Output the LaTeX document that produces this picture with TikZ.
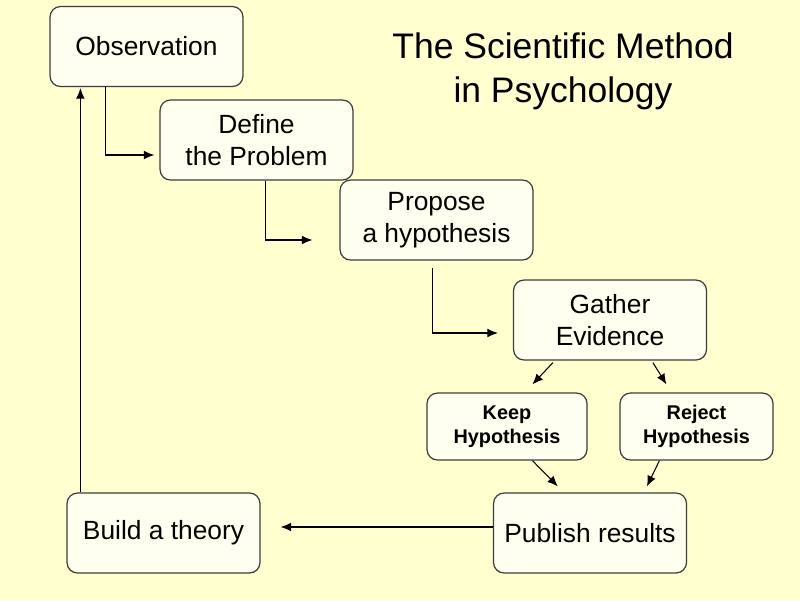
\documentclass[tikz,border=0pt]{standalone}
\usepackage{fontspec}
\setmainfont{Liberation Sans}
\usetikzlibrary{arrows.meta,calc}

\definecolor{slidebg}{RGB}{255,255,208}
\definecolor{boxfill}{RGB}{255,255,240}
\definecolor{boxline}{RGB}{60,60,60}

\tikzset{
  stepbox/.style={draw=boxline, fill=boxfill, line width=0.7pt, rounded corners=6pt,
    align=center, inner sep=0pt, minimum width=3.86cm, minimum height=1.6cm,
    font=\fontsize{15}{18}\selectfont},
  choicebox/.style={stepbox, minimum height=1.34cm,
    font=\bfseries\fontsize{11.3}{13.6}\selectfont},
  link/.style={-{Latex[length=6pt,width=5pt]}, line width=0.6pt, black}
}

\begin{document}
\begin{tikzpicture}[x=0.02cm, y=-0.02cm]
            % Background
            \fill[slidebg] (0,0) rectangle (800,600);
            \useasboundingbox (0,0) rectangle (800,600);

            % Title
            \node[align=center, font=\fontsize{20.2}{25}\selectfont] (title) at (563,71)
              {The Scientific Method\\in Psychology};

            % Draw steps
            \node[stepbox] (obs) at (146.5,46.5) {Observation};
            \node[stepbox] (def) at (256.5,140) {Define\\the Problem};
            \node[stepbox] (prop) at (436.5,220) {Propose\\a hypothesis};
            \node[stepbox] (gath) at (610,320) {Gather\\Evidence};
            \node[choicebox, minimum width=3.2cm] (keep) at (507,426.5) {Keep\\Hypothesis};
            \node[choicebox, minimum width=3.06cm] (rej) at (696.5,426.5) {Reject\\Hypothesis};
            \node[stepbox] (pub) at (590,533) {Publish results};
            \node[stepbox] (build) at (163.5,533) {Build a theory};

            % Draw elbow arrows
            \draw[link] ($(obs.south west)+(56,0)$) |- ($(def.west)+(-5,15)$);
            \draw[link] ($(def.south west)+(106,0)$) |- ($(prop.west)+(-27,20)$);
            \draw[link] ($(prop.south west)+(93,7)$) |- ($(gath.west)+(-15,13)$);

            % Draw branch arrows
            \draw[link] ($(gath.south west)+(40,2)$) -- ($(keep.north west)+(106,-8)$);
            \draw[link] ($(gath.south west)+(140,2)$) -- ($(rej.north west)+(47,-8)$);
            \draw[link] ($(keep.south west)+(106,0)$) -- ($(pub.north west)+(65,-6)$);
            \draw[link] ($(rej.south west)+(40,0)$) -- ($(pub.north west)+(154,-6)$);

            % Draw return arrows
            \draw[link] ($(pub.west)+(0,-6)$) -- ($(build.east)+(20,-6)$);
            \draw[link] ($(build.north west)+(14,0)$) -- ($(obs.south west)+(31,1)$);
\end{tikzpicture}
\end{document}
